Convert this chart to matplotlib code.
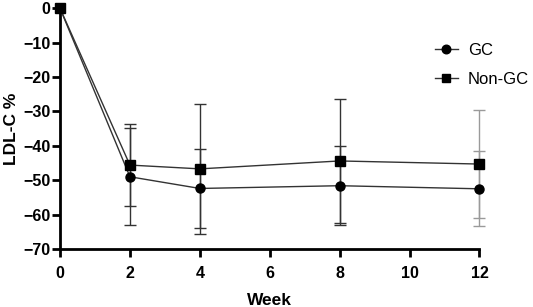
import matplotlib.pyplot as plt

plt.rcParams['font.family'] = ['Liberation Sans', 'DejaVu Sans']

weeks = [0, 2, 4, 8, 12]
gc_mean = [0, -49.0, -52.4, -51.6, -52.5]
gc_sd = [0, 14.1, 11.4, 11.5, 10.9]
nongc_mean = [0, -45.6, -46.7, -44.4, -45.3]
nongc_sd = [0, 11.9, 19.0, 18.0, 15.8]
bar_colors = ['#333333', '#333333', '#333333', '#333333', '#9a9a9a']

fig = plt.figure(figsize=(5.33, 3.07), dpi=100)
ax = fig.add_axes([0.1126, 0.189, 0.787, 0.784])

# error bars drawn one by one so the last week can be lighter
for i, w in enumerate(weeks):
    if gc_sd[i] > 0:
        ax.errorbar(w, gc_mean[i], yerr=gc_sd[i], fmt='none', ecolor=bar_colors[i],
                    elinewidth=1.0, capsize=4, capthick=1.0, clip_on=False)
        ax.errorbar(w, nongc_mean[i], yerr=nongc_sd[i], fmt='none', ecolor=bar_colors[i],
                    elinewidth=1.0, capsize=4, capthick=1.0, clip_on=False)

ax.plot(weeks, gc_mean, color='#333333', lw=1.0, marker='o', ms=6.5,
        mfc='black', mec='black', label='GC', clip_on=False, zorder=3)
ax.plot(weeks, nongc_mean, color='#333333', lw=1.0, marker='s', ms=6.5,
        mfc='black', mec='black', label='Non-GC', clip_on=False, zorder=3)

ax.set_xlim(0, 12)
ax.set_ylim(-70, 0)
ax.set_xticks([0, 2, 4, 6, 8, 10, 12])
ax.set_yticks(range(-70, 1, 10))

for s in ['top', 'right']:
    ax.spines[s].set_visible(False)
for s in ['left', 'bottom']:
    ax.spines[s].set_linewidth(2)
ax.tick_params(width=2, length=6, labelsize=11.5)
ax.tick_params(axis='x', pad=6)
ax.tick_params(axis='y', pad=1)
for lab in ax.get_xticklabels() + ax.get_yticklabels():
    lab.set_fontweight('bold')

ax.set_xlabel('Week', fontsize=12.5, fontweight='bold', labelpad=9)
ax.set_ylabel('LDL-C %', fontsize=12.5, fontweight='bold', labelpad=3)

ax.legend(loc='upper left', bbox_to_anchor=(0.857, 0.92), frameon=False,
          fontsize=12, handlelength=1.4, labelspacing=0.85, handletextpad=0.6,
          markerscale=0.95)

fig.savefig('out.png', dpi=100)
